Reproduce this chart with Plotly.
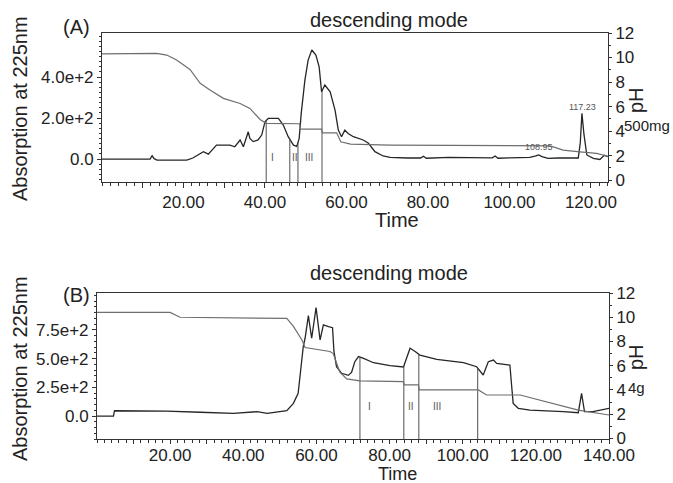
import plotly.graph_objects as go
import numpy as np

# ---------------- data ----------------
# Panel A (500 mg)
a_time = [0, 11.8, 12.3, 12.8, 13.5, 20.8, 22.3, 24.9, 26.1, 28.1, 31.4, 32.6, 33.9, 34.7, 35.5,
          35.9, 36.3, 37.1, 38.3, 39.2, 40.0, 40.8, 43.3, 44.5, 45.7, 47.0, 47.8, 48.4, 48.9, 49.8,
          50.6, 51.5, 52.5, 53.3, 53.9, 54.7, 56.0, 57.2, 58.0, 58.8, 59.6, 60.4, 61.7, 64.1, 65.4,
          67.0, 69.0, 70.7, 75.0, 78.2, 78.9, 79.6, 85.0, 90.0, 95.8, 96.5, 97.2, 100.0, 105.0, 106.5,
          107.2, 108.0, 109.5, 112.0, 116.9, 117.4, 117.8, 118.3, 119.0, 120.6, 122.2, 123.3, 124.2]
a_abs = [0, 0, 16, 2, -5, -5, 5, 36, 24, 68, 68, 60, 93, 60, 109,
         133, 101, 85, 93, 117, 182, 198, 198, 166, 109, 68, 62, 101, 223, 385,
         483, 532, 507, 450, 328, 361, 328, 239, 141, 109, 141, 125, 109, 93, 77,
         36, 15, 8, 5, 5, 14, 4, 8, 6, 6, 15, 4, 6, 8, 15,
         20, 12, 3, 5, 5, 80, 223, 120, 20, 3, -2, 18, 12]
a_ph_time = [0, 13.4, 15.9, 18.3, 21.6, 24.1, 26.5, 29.8, 33.9, 36.3, 38.8, 40.3, 48.5, 48.7, 53.9,
             54.1, 57.6, 58.6, 61.0, 70.7, 110.0, 113.2, 117.3, 121.4, 124.2]
a_ph = [10.3, 10.34, 10.2, 9.8, 9.03, 7.9, 7.35, 6.67, 6.25, 5.85, 4.95, 4.63, 4.6, 4.16, 4.16,
        3.86, 3.86, 3.13, 2.94, 2.86, 2.8, 2.45, 2.31, 2.18, 1.95]
a_fractions = [40.3, 46.1, 48.1, 54.0]

# Panel B (4 g)
b_time = [0, 4.5, 4.8, 19.0, 28.2, 37.3, 43.8, 46.5, 51.9, 53.7, 55.0, 56.0, 56.4, 56.9, 57.8,
          58.7, 59.9, 61.0, 61.9, 63.3, 64.4, 64.8, 65.5, 66.9, 68.7, 69.6, 70.5, 71.5, 72.9, 75.6,
          80.1, 83.8, 84.7, 85.6, 87.0, 88.3, 92.9, 100.2, 103.8, 105.6, 107.0, 108.4, 109.3, 112.9,
          113.4, 113.8, 115.2, 118.4, 127.5, 131.6, 132.5, 133.3, 135.6, 137.5, 140.0]
b_abs = [0, 0, 46, 43, 33, 23, 38, 23, 46, 110, 198, 517, 604, 677, 874,
         677, 943, 662, 793, 778, 769, 560, 429, 372, 354, 380, 473, 517, 502, 464,
         438, 427, 502, 590, 562, 531, 493, 464, 429, 357, 473, 487, 458, 444,
         255, 110, 67, 52, 38, 29, 198, 38, 38, 52, 67]
b_ph_time = [0, 20.0, 22.7, 51.9, 53.7, 56.0, 56.9, 61.4, 63.7, 64.6, 66.4, 68.3, 71.9, 83.8, 84.0,
             87.9, 88.1, 104.3, 106.5, 115.7, 131.6, 140.0]
b_ph = [10.4, 10.4, 10.0, 9.9, 9.24, 8.14, 7.5, 7.31, 7.17, 7.0, 5.46, 4.91, 4.74, 4.69, 4.41,
        4.41, 4.0, 4.0, 3.58, 3.58, 2.34, 1.93]
b_fractions = [71.9, 83.9, 88.0, 104.1]

fraction_names = ["I", "II", "III"]

# tick labels
a_xticks = [10, 20, 30, 40, 50, 60, 70, 80, 90, 100, 110, 120]
a_xlabels = ["", "20.00", "", "40.00", "", "60.00", "", "80.00", "", "100.00", "", "120.00"]
b_xticks = [10, 20, 30, 40, 50, 60, 70, 80, 90, 100, 110, 120, 130, 140]
b_xlabels = ["", "20.00", "", "40.00", "", "60.00", "", "80.00", "", "100.00", "", "120.00", "", "140.00"]
a_yticks = [0, 200, 400]
a_ylabels = ["0.0", "2.0e+2", "4.0e+2"]
b_yticks = [0, 250, 500, 750]
b_ylabels = ["0.0", "2.5e+2", "5.0e+2", "7.5e+2"]
ph_ticks = [0, 2, 4, 6, 8, 10, 12]

# ---------------- figure ----------------
W, H = 673, 483
def px(x):
    return x / W
def py(y):
    return 1 - y / H

A_RANGE = [-112, 615]
B_RANGE = [-200, 1071]
FONT = "Arial, Liberation Sans, sans-serif"
ABS_COLOR = "#262626"
PH_COLOR = "#6e6e6e"
FR_COLOR = "#505050"

fig = go.Figure()

def drops(fracs, t, a, ymin):
    xs, ys = [], []
    vals = np.interp(fracs, t, a)
    for f, v in zip(fracs, vals):
        xs += [f, f, None]
        ys += [ymin, float(v), None]
    return xs, ys

# Panel A traces
fig.add_trace(go.Scatter(x=a_time, y=a_abs, mode="lines", line=dict(color=ABS_COLOR, width=1.3),
                         xaxis="x", yaxis="y", showlegend=False))
fig.add_trace(go.Scatter(x=a_ph_time, y=a_ph, mode="lines", line=dict(color=PH_COLOR, width=1.2),
                         xaxis="x", yaxis="y2", showlegend=False))
dx, dy = drops(a_fractions, a_time, a_abs, A_RANGE[0])
fig.add_trace(go.Scatter(x=dx, y=dy, mode="lines", line=dict(color=FR_COLOR, width=1),
                         xaxis="x", yaxis="y", showlegend=False))

# Panel B traces
fig.add_trace(go.Scatter(x=b_time, y=b_abs, mode="lines", line=dict(color=ABS_COLOR, width=1.3),
                         xaxis="x2", yaxis="y3", showlegend=False))
fig.add_trace(go.Scatter(x=b_ph_time, y=b_ph, mode="lines", line=dict(color=PH_COLOR, width=1.2),
                         xaxis="x2", yaxis="y4", showlegend=False))
dx, dy = drops(b_fractions, b_time, b_abs, B_RANGE[0])
fig.add_trace(go.Scatter(x=dx, y=dy, mode="lines", line=dict(color=FR_COLOR, width=1),
                         xaxis="x2", yaxis="y3", showlegend=False))

tickfont = dict(family=FONT, size=17, color="#222")
axline = dict(showline=True, linecolor="#333", linewidth=1, showgrid=False, zeroline=False,
              ticks="outside", tickcolor="#333", tickfont=tickfont, automargin=False)

fig.update_layout(
    width=W, height=H,
    margin=dict(l=0, r=0, t=0, b=0, autoexpand=False),
    paper_bgcolor="white", plot_bgcolor="white",
    font=dict(family=FONT, color="#222"),
    xaxis=dict(domain=[px(102), px(608)], anchor="y", range=[0, 124.2], mirror=True,
               tickmode="array", tickvals=a_xticks, ticktext=a_xlabels, ticklen=5,
               minor=dict(dtick=2, tick0=0, ticklen=3, ticks="outside", tickcolor="#333"), **axline),
    yaxis=dict(domain=[py(182), py(33)], anchor="x", range=A_RANGE,
               tickmode="array", tickvals=a_yticks, ticktext=a_ylabels, ticklen=4,
               minor=dict(dtick=25, tick0=0, ticklen=2, ticks="outside", tickcolor="#333"), **axline),
    yaxis2=dict(overlaying="y", side="right", anchor="x", range=[-0.15, 12],
                tickmode="array", tickvals=ph_ticks, ticklen=3,
                minor=dict(dtick=1, ticklen=2, ticks="outside", tickcolor="#333"), **axline),
    xaxis2=dict(domain=[px(97), px(609)], anchor="y3", range=[0, 140], mirror=True,
                tickmode="array", tickvals=b_xticks, ticktext=b_xlabels, ticklen=4,
                ticklabelstandoff=-3,
                minor=dict(dtick=2, tick0=0, ticklen=3, ticks="outside", tickcolor="#333"), **axline),
    yaxis3=dict(domain=[py(439), py(293)], anchor="x2", range=B_RANGE,
                tickmode="array", tickvals=b_yticks, ticktext=b_ylabels, ticklen=4,
                minor=dict(dtick=50, tick0=0, ticklen=2, ticks="outside", tickcolor="#333"), **axline),
    yaxis4=dict(overlaying="y3", side="right", anchor="x2", range=[-0.05, 12],
                tickmode="array", tickvals=ph_ticks, ticklen=3,
                minor=dict(dtick=1, ticklen=2, ticks="outside", tickcolor="#333"), **axline),
)

def note(text, x, y, size, angle=0, color="#222", family=FONT):
    fig.add_annotation(text=text, x=px(x), y=py(y), xref="paper", yref="paper",
                       showarrow=False, textangle=angle, xanchor="center", yanchor="middle",
                       font=dict(family=family, size=size, color=color))

# Panel A texts
note("descending mode", 389, 20, 20)
note("(A)", 76, 27, 20)
note("Absorption at 225nm", 20, 109, 20, angle=-90)
note("Time", 397, 220, 20)
note("pH", 636, 100, 20, angle=-90)
note("500mg", 647, 125, 15)
note("117.23", 582, 107, 9, color="#555", family="Liberation Sans Narrow, Arial Narrow, sans-serif")
note("108.95", 539, 147, 9, color="#555", family="Liberation Sans Narrow, Arial Narrow, sans-serif")
for name, xx in zip(fraction_names, [272, 295, 309]):
    note(name, xx, 157, 10, color="#555")

# Panel B texts
note("descending mode", 389, 273, 20)
note("(B)", 76, 295, 20)
note("Absorption at 225nm", 20, 369, 20, angle=-90)
note("Time", 397, 474, 18)
note("pH", 636, 357, 20, angle=-90)
note("4g", 636, 387, 15)
for name, xx in zip(fraction_names, [369, 411, 437]):
    note(name, xx, 406, 10, color="#555")

fig.write_html(
    "out.html",
    config={"displayModeBar": False},
    post_script="document.body.style.margin='0';document.body.style.overflow='hidden';",
)
